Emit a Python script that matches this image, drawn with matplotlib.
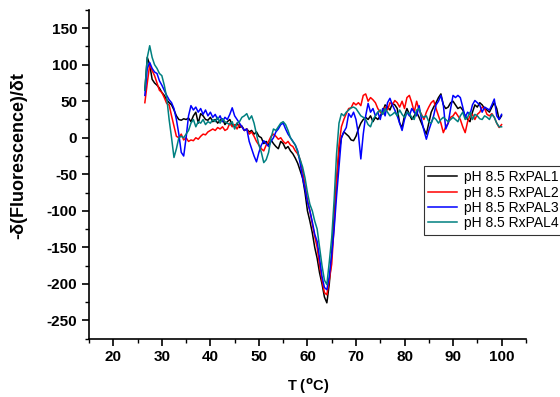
import numpy as np
import matplotlib
matplotlib.use('Agg')
from matplotlib import pyplot as plt
from matplotlib.ticker import MultipleLocator

plt.rcParams['font.family'] = ['Liberation Sans', 'DejaVu Sans']
plt.rcParams['axes.unicode_minus'] = False

# temperature axis, 0.5 degC steps
temp = np.arange(26.5, 100.01, 0.5)

# -dF/dt for each sample
pal1 = [65, 110, 100, 80, 75, 72, 68, 62, 58, 52,
        48, 45, 38, 30, 25, 24, 26, 25, 27, 22,
        30, 35, 20, 33, 30, 25, 24, 28, 22, 25,
        20, 24, 26, 18, 22, 25, 18, 15, 20, 14,
        16, 10, 12, 8, 10, 5, 8, 2, 0, -8,
        -5, -10, -3, -8, -12, -15, -5, -8, -15, -12,
        -18, -22, -28, -35, -45, -55, -75, -100, -114, -130,
        -150, -165, -185, -200, -218, -226, -200, -160, -110, -60,
        -20, 0, 8, 5, 2, -3, -4, 2, 12, 20,
        25, 28, 25, 30, 22, 28, 25, 30, 35, 45,
        42, 38, 47, 45, 40, 20, 14, 30, 40, 32,
        25, 30, 35, 28, 20, 12, 5, 20, 35, 42,
        48, 55, 60, 45, 40, 42, 48, 50, 45, 40,
        42, 38, 30, 25, 22, 35, 45, 42, 48, 45,
        40, 38, 35, 42, 48, 40, 25, 30]

pal2 = [48, 75, 100, 92, 85, 75, 65, 62, 55, 47,
        45, 30, 16, 2, 0, 5, -3, 0, -5, -3,
        -4, 0, -2, 2, 5, 4, 8, 10, 12, 10,
        14, 12, 15, 10, 12, 20, 15, 18, 12, 18,
        15, 10, 12, 5, 8, 2, -5, -10, -15, -18,
        -10, -5, 2, 5, 2, -2, 0, -5, -8, -5,
        -10, -12, -18, -22, -30, -45, -65, -85, -100, -118,
        -135, -150, -175, -195, -212, -215, -195, -173, -120, -59,
        -10, 15, 25, 33, 40, 41, 48, 45, 48, 44,
        58, 60, 50, 55, 52, 48, 40, 35, 32, 42,
        38, 48, 45, 51, 48, 42, 50, 40, 55, 58,
        48, 35, 50, 38, 32, 25, 35, 42, 48, 51,
        40, 30, 20, 7, 15, 20, 28, 30, 35, 30,
        25, 15, 7, 22, 30, 32, 25, 32, 35, 42,
        40, 32, 30, 33, 28, 20, 14, 18]

pal3 = [58, 95, 103, 95, 90, 88, 78, 72, 65, 58,
        52, 48, 40, 25, 5, -20, -25, 0, 30, 44,
        38, 42, 35, 40, 32, 38, 30, 35, 28, 32,
        25, 30, 22, 28, 25, 32, 41, 30, 25, 20,
        15, 10, 12, -5, -15, -25, -33, -20, -10, -4,
        -8, -12, -5, 0, 8, 12, 18, 20, 12, 5,
        0, -5, -10, -18, -35, -55, -70, -88, -100, -115,
        -132, -142, -165, -190, -205, -208, -190, -160, -125, -80,
        -40, 0, 8, 14, 33, 28, 35, 25, 5, -29,
        5, 30, 47, 35, 40, 30, 35, 25, 40, 30,
        48, 54, 45, 38, 30, 20, 10, 25, 35, 30,
        40, 35, 30, 44, 25, 10, -2, 10, 20, 30,
        45, 50, 58, 45, 12, 20, 40, 58, 55, 58,
        55, 42, 28, 35, 32, 45, 51, 48, 45, 35,
        42, 40, 38, 45, 53, 30, 25, 32]

pal4 = [65, 110, 126, 110, 100, 95, 88, 85, 72, 55,
        25, 0, -27, -15, 0, 2, 0, 5, 10, 20,
        25, 15, 22, 20, 25, 18, 22, 20, 25, 22,
        28, 20, 26, 22, 20, 18, 22, 12, 20, 22,
        28, 30, 33, 25, 30, 20, 5, -10, -20, -34,
        -30, -20, 0, 12, 10, 15, 20, 22, 18, 10,
        0, -5, -10, -20, -30, -40, -55, -75, -91, -100,
        -114, -125, -150, -175, -195, -201, -170, -137, -85, -22,
        20, 33, 30, 35, 38, 41, 42, 40, 35, 30,
        28, 25, 18, 15, 25, 30, 35, 38, 32, 40,
        35, 30, 32, 35, 30, 38, 32, 28, 35, 33,
        28, 25, 38, 40, 30, 28, 30, 22, 20, 28,
        25, 20, 25, 28, 25, 22, 25, 28, 25, 22,
        30, 35, 25, 28, 35, 25, 32, 30, 26, 25,
        30, 28, 25, 32, 28, 20, 15, 15]

labels = ['pH 8.5 RxPAL1', 'pH 8.5 RxPAL2', 'pH 8.5 RxPAL3', 'pH 8.5 RxPAL4']
colors = ['black', 'red', 'blue', '#008080']

fig = plt.figure(figsize=(5.6, 3.97), dpi=100)
ax = fig.add_axes([0.159, 0.147, 0.78, 0.828])

for y, lab, c in zip([pal1, pal2, pal3, pal4], labels, colors):
    ax.plot(temp, y, color=c, lw=1.1, label=lab)

ax.set_xlim(15, 105)
ax.set_ylim(-275, 175)
ax.xaxis.set_major_locator(MultipleLocator(10))
ax.xaxis.set_minor_locator(MultipleLocator(5))
ax.yaxis.set_major_locator(MultipleLocator(50))
ax.yaxis.set_minor_locator(MultipleLocator(25))
ax.set_xticks(np.arange(20, 101, 10))
ax.set_yticks(np.arange(-250, 151, 50))

ax.spines['top'].set_visible(False)
ax.spines['right'].set_visible(False)
for s in ['left', 'bottom']:
    ax.spines[s].set_linewidth(1.2)
ax.tick_params(which='major', direction='out', length=5, width=1.2, labelsize=11)
ax.tick_params(which='minor', direction='out', length=3, width=1.0)
for t in ax.get_xticklabels() + ax.get_yticklabels():
    t.set_fontweight('bold')

ax.set_xlabel('T ($\\mathbf{^{o}}$C)', fontsize=10.5, fontweight='bold')
ax.set_ylabel('-δ(Fluorescence)/δt', fontsize=13, fontweight='bold')
ax.xaxis.set_label_coords(0.501, -0.115)
ax.yaxis.set_label_coords(-0.141, 0.556)

leg = fig.legend(loc='upper left', bbox_to_anchor=(424/560, 1 - 166/397),
                 fontsize=10, frameon=True, fancybox=False, borderaxespad=0,
                 borderpad=0.3, handlelength=2.1, handletextpad=0.45,
                 labelspacing=0.1)
leg.get_frame().set_edgecolor('black')
leg.get_frame().set_linewidth(0.8)

fig.savefig('out.png', dpi=100)
